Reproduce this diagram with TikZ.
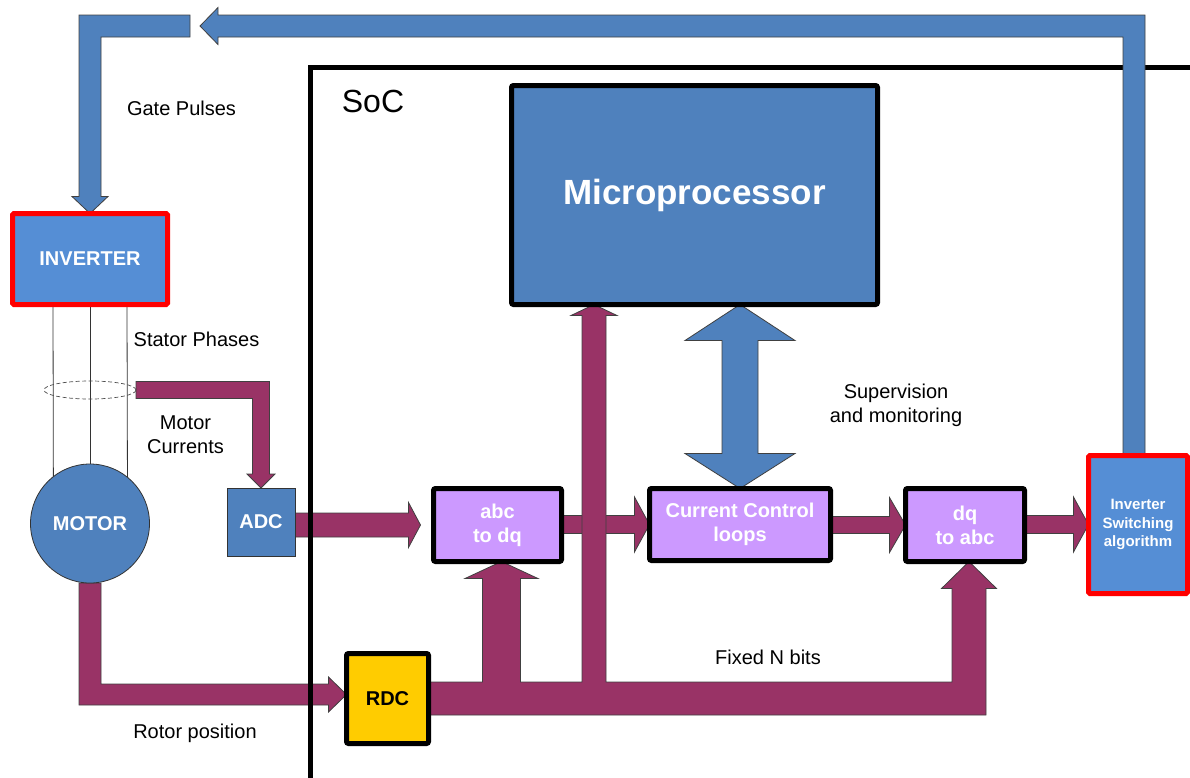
\documentclass[tikz,border=0pt]{standalone}
\usepackage{fontspec}
\setmainfont{Liberation Sans}
\usetikzlibrary{calc,shapes.geometric}
\pgfdeclarelayer{bg}\pgfdeclarelayer{soc}
\pgfsetlayers{bg,soc,main}
\definecolor{cblue}{RGB}{79,129,189}
\definecolor{lblue}{RGB}{85,142,213}
\definecolor{plum}{RGB}{153,51,102}
\definecolor{lilac}{RGB}{204,153,255}
\definecolor{gold}{RGB}{255,204,0}
\tikzset{
 blk/.style={draw=black!75, line width=0.8pt, line join=miter},
 bfont/.style={font=\bfseries\fontsize{20}{24}\selectfont},
 thickbox/.style={draw=black, line width=5pt, rounded corners=2pt, inner sep=0pt, outer sep=0pt, text=white, bfont, align=center},
 redbox/.style={draw=red, line width=5pt, fill=lblue, rounded corners=1.5pt, inner sep=0pt, outer sep=0pt, text=white, align=center},
 thinbox/.style={draw=black!80, line width=0.8pt, fill=cblue, inner sep=0pt, outer sep=0pt, text=white, bfont},
 lbl/.style={font=\fontsize{20}{24}\selectfont, align=center, inner sep=0pt},
 phase/.style={draw=black!80, line width=0.8pt},
}
\newcommand\blkR[6]{\draw[blk,fill=#6] let \p1=(#1),\p2=(#2) in
 (\x1,\y2+#3) -- (\x2-#5,\y2+#3) -- (\x2-#5,\y2+#4) -- (\x2,\y2) -- (\x2-#5,\y2-#4) -- (\x2-#5,\y2-#3) -- (\x1,\y2-#3) -- cycle;}
\begin{document}
\begin{tikzpicture}[x=1pt,y=-1pt]
\useasboundingbox (0,0) rectangle (1190,777);
% nodes
\node[redbox, minimum width=155pt, minimum height=91pt, bfont] (inv) at (90,259) {INVERTER};
\node[thinbox, circle, minimum size=119pt] (motor) at (90,523.5) {MOTOR};
\node[thinbox, minimum width=68pt, minimum height=68pt] (adc) at (261,522) {ADC};
\node[thickbox, fill=gold, text=black, minimum width=82pt, minimum height=90pt] (rdc) at (387.5,698.5) {RDC};
\node[thickbox, fill=lilac, minimum width=128pt, minimum height=73pt] (abc) at (497.5,525) {abc\\to dq};
\node[thickbox, fill=lilac, minimum width=181pt, minimum height=72pt] (cc) at (740,524.5) {Current Control\\loops};
\node[thickbox, fill=lilac, minimum width=119pt, minimum height=73pt] (dq) at (965,525) {dq\\to abc};
\node[redbox, minimum width=99pt, minimum height=138pt, font=\bfseries\fontsize{15}{18.5}\selectfont] (isa) at (1138,524.5) {Inverter\\Switching\\algorithm};
\node[thickbox, fill=cblue, minimum width=366pt, minimum height=219pt, font=\bfseries\fontsize{35}{40}\selectfont] (micro) at (694.5,195) {Microprocessor};
\node[ellipse, draw=black!70, dashed, dash pattern=on 4pt off 2.5pt, line width=0.7pt, minimum width=92pt, minimum height=18pt, inner sep=0pt, outer sep=0pt] (ring) at (90,390) {};
% labels
\node[lbl] (gp) at (181.5,108) {Gate Pulses};
\node[lbl] (sp) at (196.5,339) {Stator Phases};
\node[lbl] (mc) at (185.5,435) {Motor\\Currents};
\node[lbl] (rp) at (195,733) {Rotor position};
\node[lbl, font=\fontsize{32}{36}\selectfont] (soclbl) at (373,101) {SoC};
\node[lbl] (fnb) at (768,657) {Fixed N bits};
\node[lbl] (sup) at (896,405) {Supervision\\and monitoring};
\coordinate (gpstart) at (190,26);
\coordinate (fbtip) at (200,26);
\coordinate (tap) at ($(micro.south west)+(82.5,0)$);
\begin{pgfonlayer}{bg}
% stator phase lines
\draw[phase] ($(inv.south)+(-37,0)$) -- (motor.128.4);
\draw[phase] (inv.south) -- (motor.north);
\draw[phase] ($(inv.south)+(37,0)$) -- (motor.51.6);
% motor currents
\draw[blk,fill=plum] let \p1=(ring.east),\p2=(adc.north) in
 (\x1,\y1+8.5pt) -- (\x2+8.5pt,\y1+8.5pt) -- (\x2+8.5pt,\y2+14pt) -- (\x2+14pt,\y2+14pt) -- (\x2,\y2)
 -- (\x2-14pt,\y2+14pt) -- (\x2-8.5pt,\y2+14pt) -- (\x2-8.5pt,\y1-8.5pt) -- (\x1,\y1-8.5pt) -- cycle;
% rotor position
\draw[blk,fill=plum] let \p1=(motor.south),\p2=($(rdc.west)+(0,-4)$) in
 (\x1-11pt,\y1) -- (\x1-11pt,\y2-10.5pt) -- (\x2-18pt,\y2-10.5pt) -- (\x2-18pt,\y2-17.5pt) -- (\x2,\y2)
 -- (\x2-18pt,\y2+17.5pt) -- (\x2-18pt,\y2+10.5pt) -- (\x1+11pt,\y2+10.5pt) -- (\x1+11pt,\y1) -- cycle;
% straight arrows
\blkR{adc.east}{$(abc.west)+(-13,0)$}{12pt}{22.5pt}{12pt}{plum}
\blkR{abc.east}{cc.west}{9pt}{27.5pt}{15pt}{plum}
\blkR{cc.east}{dq.west}{8.5pt}{27.5pt}{16pt}{plum}
\blkR{dq.east}{isa.west}{9pt}{27.5pt}{15pt}{plum}
% RDC bus with branches
\draw[blk,fill=plum] let \p1=(rdc.east),\p5=($(abc.south)+(4,0)$),\p3=(tap),\p4=($(dq.south)+(4,0)$) in
 (\x1,\y1+16.5pt) -- (\x5-19pt,\y1+16.5pt) -- (\x5-19pt,\y5-17pt) -- (\x5-36.5pt,\y5-17pt) -- (\x5,\y5)
 -- (\x5+36.5pt,\y5-17pt) -- (\x5+19pt,\y5-17pt) -- (\x5+19pt,\y1+16.5pt)
 -- (\x3-12pt,\y1+16.5pt) -- (\x3-12pt,\y3-11pt) -- (\x3-23pt,\y3-11pt) -- (\x3,\y3)
 -- (\x3+23pt,\y3-11pt) -- (\x3+12pt,\y3-11pt) -- (\x3+12pt,\y1+16.5pt)
 -- (\x4-17pt,\y1+16.5pt) -- (\x4-17pt,\y4-27pt) -- (\x4-27.5pt,\y4-27pt) -- (\x4,\y4)
 -- (\x4+27.5pt,\y4-27pt) -- (\x4+17pt,\y4-27pt) -- (\x4+17pt,\y1-16.5pt) -- (\x1,\y1-16.5pt) -- cycle;
\end{pgfonlayer}
\begin{pgfonlayer}{soc}
% SoC border
\draw[line width=5pt] (310,785) -- (310,67) -- (1200,67);
% supervision double arrow
\draw[blk,fill=cblue] let \p1=(micro.south),\p2=(cc.north) in
 (\x2,\y1) -- (\x2+55pt,\y1-36pt) -- (\x2+18pt,\y1-36pt) -- (\x2+18pt,\y2+35pt) -- (\x2+55pt,\y2+35pt) -- (\x2,\y2)
 -- (\x2-55pt,\y2+35pt) -- (\x2-18pt,\y2+35pt) -- (\x2-18pt,\y1-36pt) -- (\x2-55pt,\y1-36pt) -- cycle;
% gate pulses to inverter
\draw[blk,fill=cblue] let \p1=(gpstart),\p2=(inv.north) in
 (\x1,\y1+11pt) -- (\x2-11pt,\y1+11pt) -- (\x2-11pt,\y2+17pt) -- (\x2-18pt,\y2+17pt) -- (\x2,\y2)
 -- (\x2+18pt,\y2+17pt) -- (\x2+11pt,\y2+17pt) -- (\x2+11pt,\y1-11pt) -- (\x1,\y1-11pt) -- cycle;
% feedback from inverter switching algorithm
\draw[blk,fill=cblue] let \p1=($(isa.north)+(-4,0)$),\p2=(fbtip) in
 (\x1-11pt,\y1) -- (\x1-11pt,\y2-11pt) -- (\x2+18pt,\y2-11pt) -- (\x2+18pt,\y2-18.5pt) -- (\x2,\y2)
 -- (\x2+18pt,\y2+18.5pt) -- (\x2+18pt,\y2+11pt) -- (\x1+11pt,\y2+11pt) -- (\x1+11pt,\y1) -- cycle;
\end{pgfonlayer}
\end{tikzpicture}
\end{document}
